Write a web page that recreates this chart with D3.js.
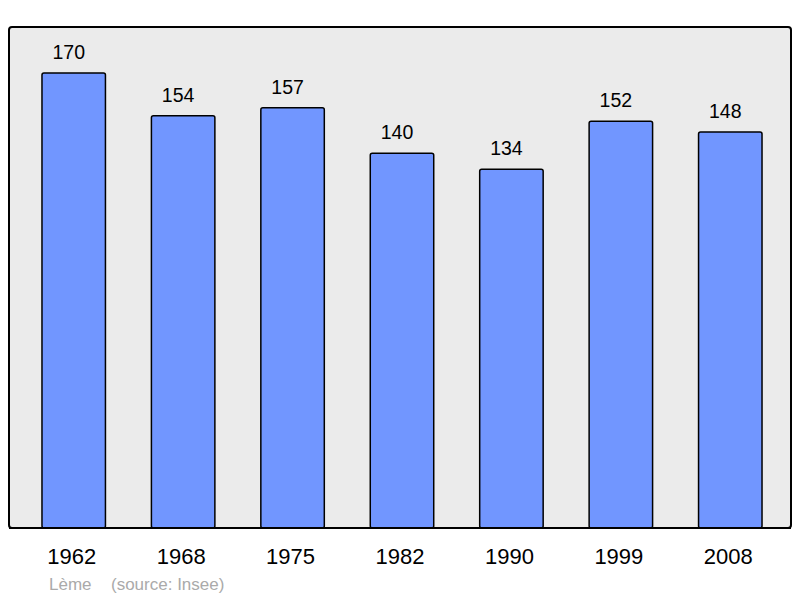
<!DOCTYPE html>
<html>
<head>
<meta charset="utf-8">
<script src="https://cdn.jsdelivr.net/npm/d3@7"></script>
<style>
  body { margin: 0; background: #fff; }
  text { font-family: "Liberation Sans", Arial, sans-serif; }
</style>
</head>
<body>
<svg id="chart" width="800" height="598"></svg>
<script>
const years = ["1962", "1968", "1975", "1982", "1990", "1999", "2008"];
const population = [170, 154, 157, 140, 134, 152, 148];
const place = "Lème";
const source = "(source: Insee)";

const data = years.map((y, i) => ({ year: y, value: population[i] }));

const svg = d3.select("#chart");

// plot frame
svg.append("rect")
  .attr("x", 9)
  .attr("y", 27)
  .attr("width", 782)
  .attr("height", 501)
  .attr("rx", 3)
  .attr("fill", "#ebebeb")
  .attr("stroke", "#000")
  .attr("stroke-width", 2);

const x = d3.scaleBand()
  .domain(years)
  .range([19, 785])
  .paddingInner(0.42)
  .paddingOuter(0.21);

const y = d3.scaleLinear().domain([0, 170]).range([528, 73]);

svg.append("g")
  .selectAll(".bar")
  .data(data)
  .enter()
  .append("rect")
  .attr("class", "bar")
  .attr("x", (d) => x(d.year))
  .attr("width", x.bandwidth())
  .attr("y", (d) => y(d.value))
  .attr("height", (d) => y(0) - y(d.value))
  .attr("rx", 2)
  .attr("fill", "#7196ff")
  .attr("stroke", "#000")
  .attr("stroke-width", 1.5);

// value labels
svg.append("g")
  .selectAll("text")
  .data(data)
  .enter()
  .append("text")
  .attr("x", (d) => x(d.year) + x.bandwidth() / 2 - 5)
  .attr("y", (d) => y(d.value) - 14)
  .attr("text-anchor", "middle")
  .style("font-size", "19.5px")
  .text((d) => d.value);

// redraw bottom edge of frame over bars
svg.append("line")
  .attr("x1", 9).attr("x2", 791)
  .attr("y1", 528).attr("y2", 528)
  .attr("stroke", "#000")
  .attr("stroke-width", 2);

// year axis
const xAxis = svg.append("g")
  .attr("transform", "translate(-2,528)")
  .call(d3.axisBottom(x).tickSize(0).tickPadding(20));
xAxis.select(".domain").remove();
xAxis.selectAll("text")
  .attr("fill", "#000")
  .style("font-size", "22px")
  .style("font-family", "'Liberation Sans', Arial, sans-serif");

// footer
svg.append("text")
  .attr("x", 49)
  .attr("y", 590)
  .attr("fill", "#aaa")
  .style("font-size", "17px")
  .text(place);

svg.append("text")
  .attr("x", 111)
  .attr("y", 590)
  .attr("fill", "#aaa")
  .style("font-size", "17px")
  .text(source);
</script>
</body>
</html>
